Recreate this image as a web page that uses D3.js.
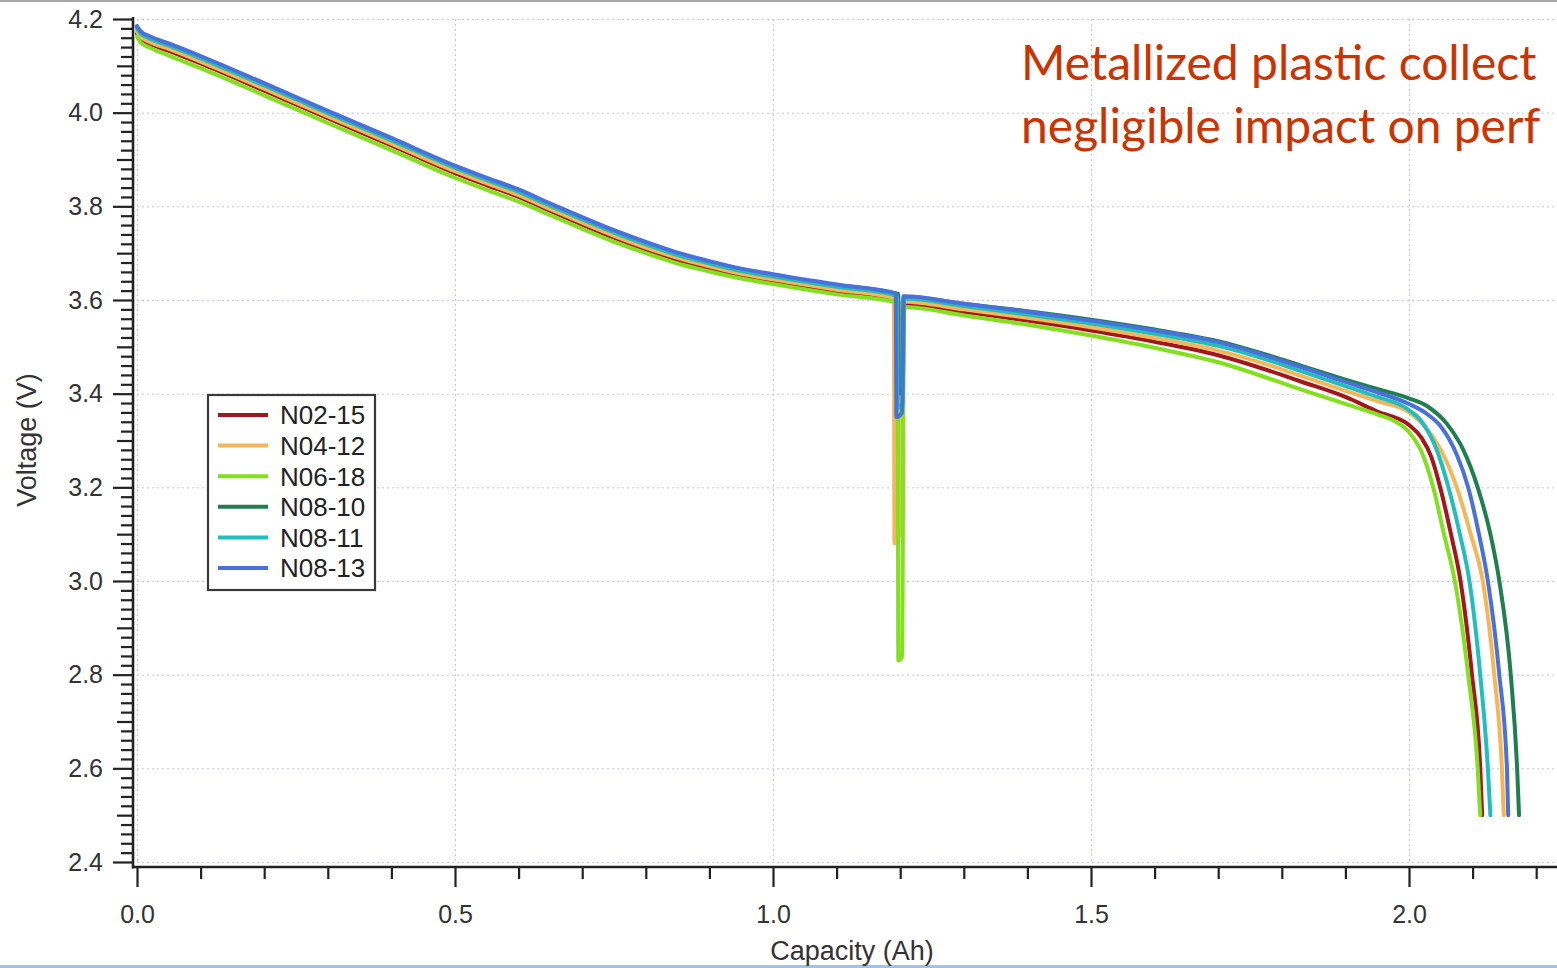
<!DOCTYPE html>
<html><head><meta charset="utf-8">
<script src="https://cdn.jsdelivr.net/npm/d3@7"></script>
<style>html,body{margin:0;padding:0;background:#fff;overflow:hidden}svg{display:block}</style>
</head><body>
<svg id="chart" width="1557" height="968"></svg>
<script>
// ---------- data (capacity Ah, voltage V) ----------
const seriesNames = ["N02-15", "N04-12", "N06-18", "N08-10", "N08-11", "N08-13"];

const N02_15 = [[0,4.169],[0.005,4.159],[0.02,4.147],[0.05,4.132],[0.1,4.105],[0.2,4.047],[0.3,3.988],[0.4,3.930],[0.5,3.871],[0.55,3.845],[0.6,3.820],[0.65,3.790],[0.7,3.761],[0.75,3.733],[0.8,3.708],[0.85,3.686],[0.9,3.668],[0.95,3.652],[1.0,3.640],[1.1,3.618],[1.194,3.600],
  [1.195,3.12],[1.200,3.13],[1.204,3.592],
  [1.3,3.575],[1.4,3.556],[1.5,3.535],[1.6,3.511],[1.7,3.482],[1.8,3.440],[1.83,3.426],[1.9,3.393],[1.95,3.362],[2.0,3.333],[2.02,3.305],[2.035,3.265],[2.05,3.195],[2.066,3.1],[2.081,3.0],[2.099,2.8],[2.112,2.6],[2.115,2.5]];

const N04_12 = [[0,4.173],[0.005,4.163],[0.02,4.151],[0.05,4.136],[0.1,4.109],[0.2,4.051],[0.3,3.992],[0.4,3.934],[0.5,3.875],[0.55,3.849],[0.6,3.824],[0.65,3.794],[0.7,3.765],[0.75,3.737],[0.8,3.712],[0.85,3.690],[0.9,3.672],[0.95,3.656],[1.0,3.644],[1.1,3.622],[1.19,3.604],
  [1.191,3.08],[1.199,3.10],[1.203,3.597],
  [1.3,3.580],[1.4,3.562],[1.5,3.542],[1.6,3.519],[1.7,3.492],[1.8,3.452],[1.83,3.438],[1.9,3.406],[1.95,3.384],[2.0,3.360],[2.025,3.330],[2.05,3.280],[2.075,3.2],[2.097,3.1],[2.116,3.0],[2.134,2.8],[2.146,2.6],[2.149,2.5]];

const N06_18 = [[0,4.162],[0.005,4.151],[0.02,4.139],[0.05,4.122],[0.1,4.095],[0.2,4.037],[0.3,3.978],[0.4,3.920],[0.5,3.861],[0.55,3.835],[0.6,3.810],[0.65,3.781],[0.7,3.752],[0.75,3.724],[0.8,3.700],[0.85,3.678],[0.9,3.661],[0.95,3.646],[1.0,3.634],[1.1,3.612],[1.196,3.594],
  [1.197,2.83],[1.203,2.84],[1.206,3.585],
  [1.3,3.567],[1.4,3.547],[1.5,3.524],[1.6,3.498],[1.7,3.467],[1.8,3.423],[1.83,3.409],[1.9,3.378],[1.95,3.356],[1.975,3.343],[2.0,3.318],[2.02,3.275],[2.038,3.2],[2.055,3.1],[2.072,3.0],[2.093,2.8],[2.108,2.6],[2.112,2.5]];

const N08_10 = [[0,4.183],[0.005,4.173],[0.02,4.161],[0.05,4.146],[0.1,4.119],[0.2,4.061],[0.3,4.002],[0.4,3.944],[0.5,3.885],[0.55,3.859],[0.6,3.834],[0.65,3.804],[0.7,3.775],[0.75,3.747],[0.8,3.722],[0.85,3.699],[0.9,3.681],[0.95,3.665],[1.0,3.653],[1.1,3.632],[1.197,3.613],
  [1.198,3.40],[1.204,3.41],[1.206,3.607],
  [1.3,3.592],[1.4,3.576],[1.5,3.558],[1.6,3.537],[1.7,3.512],[1.8,3.473],[1.83,3.460],[1.9,3.430],[1.95,3.410],[2.0,3.390],[2.03,3.372],[2.06,3.335],[2.085,3.281],[2.108,3.2],[2.128,3.1],[2.142,3.0],[2.160,2.8],[2.170,2.6],[2.173,2.5]];

const N08_11 = [[0,4.180],[0.005,4.170],[0.02,4.158],[0.05,4.143],[0.1,4.116],[0.2,4.058],[0.3,3.999],[0.4,3.941],[0.5,3.882],[0.55,3.856],[0.6,3.831],[0.65,3.801],[0.7,3.772],[0.75,3.744],[0.8,3.719],[0.85,3.696],[0.9,3.678],[0.95,3.662],[1.0,3.650],[1.1,3.628],[1.195,3.609],
  [1.196,3.37],[1.204,3.38],[1.206,3.603],
  [1.3,3.587],[1.4,3.569],[1.5,3.550],[1.6,3.528],[1.7,3.502],[1.8,3.462],[1.83,3.448],[1.9,3.416],[1.95,3.393],[2.0,3.365],[2.02,3.340],[2.045,3.275],[2.062,3.2],[2.08,3.1],[2.095,3.0],[2.112,2.8],[2.124,2.6],[2.128,2.5]];

const N08_13 = [[0,4.185],[0.005,4.175],[0.02,4.163],[0.05,4.148],[0.1,4.121],[0.2,4.063],[0.3,4.004],[0.4,3.946],[0.5,3.887],[0.55,3.861],[0.6,3.836],[0.65,3.806],[0.7,3.777],[0.75,3.749],[0.8,3.724],[0.85,3.701],[0.9,3.683],[0.95,3.667],[1.0,3.655],[1.1,3.633],[1.193,3.614],
  [1.194,3.35],[1.203,3.36],[1.205,3.608],
  [1.3,3.592],[1.4,3.575],[1.5,3.556],[1.6,3.535],[1.7,3.510],[1.8,3.470],[1.83,3.457],[1.9,3.425],[1.95,3.403],[2.0,3.378],[2.03,3.355],[2.05,3.330],[2.075,3.27],[2.093,3.2],[2.11,3.1],[2.124,3.0],[2.142,2.8],[2.154,2.6],[2.156,2.5]];

const seriesData = [N02_15, N04_12, N06_18, N08_10, N08_11, N08_13];
const seriesColors = ["#a3161c", "#f5b65a", "#82e01e", "#1f7f4e", "#22bdbd", "#4a70dc"];

const xMajorTicks = [0, 0.5, 1.0, 1.5, 2.0];
const xTickLabels = ["0.0", "0.5", "1.0", "1.5", "2.0"];
const yMajorTicks = [2.4, 2.6, 2.8, 3.0, 3.2, 3.4, 3.6, 3.8, 4.0, 4.2];
const yTickLabels = ["2.4", "2.6", "2.8", "3.0", "3.2", "3.4", "3.6", "3.8", "4.0", "4.2"];
const xTitle = "Capacity (Ah)";
const yTitle = "Voltage (V)";
// the slide's headline, as far as it is visible at the right edge
const titleLines = ["Metallized plastic collect", "negligible impact on perf"];

// ---------- drawing ----------
const W = 1557, H = 968;
const svg = d3.select("#chart");
const x = d3.scaleLinear().domain([0, 1]).range([137, 773]);
const y = d3.scaleLinear().domain([2.4, 4.2]).range([862, 19]);
const axisFont = "'Liberation Sans', Arial, Helvetica, sans-serif";
const textCol = "#333";

// frame lines of the slide
svg.append("rect").attr("x", 0).attr("y", 0).attr("width", W).attr("height", 2).attr("fill", "#a6a6a6");
svg.append("rect").attr("x", 0).attr("y", 965).attr("width", W).attr("height", 3).attr("fill", "#9dc3e6");

// grid
const grid = svg.append("g").attr("stroke", "#c6c6e2").attr("stroke-width", 1).attr("stroke-dasharray", "2,3");
grid.selectAll("line.h").data(yMajorTicks).join("line").attr("class", "h")
  .attr("x1", x(0)).attr("x2", W).attr("y1", d => y(d) + 0.5).attr("y2", d => y(d) + 0.5);
grid.selectAll("line.v").data(xMajorTicks).join("line").attr("class", "v")
  .attr("x1", d => x(d) + 0.5).attr("x2", d => x(d) + 0.5).attr("y1", y(4.2)).attr("y2", y(2.4));

// y axis
const yMinor = d3.range(2.4, 4.2001, 0.02).map(v => +v.toFixed(2));
const yMid = [2.5, 2.7, 2.9, 3.1, 3.3, 3.5, 3.7, 3.9, 4.1];
const isIn = (arr, v) => arr.some(m => Math.abs(m - v) < 1e-6);
const yAxisG = svg.append("g").attr("transform", "translate(133,0)");
yAxisG.append("g").call(d3.axisLeft(y).tickValues(yMinor.filter(v => !isIn(yMajorTicks, v) && !isIn(yMid, v))).tickSize(12).tickSizeOuter(0).tickFormat(""));
yAxisG.append("g").call(d3.axisLeft(y).tickValues(yMid).tickSize(16).tickSizeOuter(0).tickFormat(""));
yAxisG.append("g").call(d3.axisLeft(y).tickValues(yMajorTicks).tickSize(20).tickSizeOuter(0).tickPadding(10)
  .tickFormat((d, i) => yTickLabels[i]));
yAxisG.selectAll(".domain").remove();
yAxisG.selectAll("line").attr("stroke", "#222").attr("stroke-width", 2.2);
yAxisG.selectAll("text").attr("font-family", axisFont).attr("font-size", 25).attr("fill", textCol);

// x axis
const xMinor = d3.range(0, 2.2001, 0.1).map(v => +v.toFixed(1)).filter(v => !isIn(xMajorTicks, v));
const xAxisG = svg.append("g").attr("transform", "translate(0,867)");
xAxisG.append("g").call(d3.axisBottom(x).tickValues(xMinor).tickSize(12).tickSizeOuter(0).tickFormat(""));
xAxisG.append("g").call(d3.axisBottom(x).tickValues(xMajorTicks).tickSize(20).tickSizeOuter(0).tickPadding(18)
  .tickFormat((d, i) => xTickLabels[i]));
xAxisG.selectAll(".domain").remove();
xAxisG.selectAll("line").attr("stroke", "#222").attr("stroke-width", 2.2);
xAxisG.selectAll("text").attr("font-family", axisFont).attr("font-size", 25).attr("fill", textCol);

// spines
svg.append("line").attr("x1", 133).attr("x2", 133).attr("y1", 17).attr("y2", 868.5).attr("stroke", "#222").attr("stroke-width", 2.6);
svg.append("line").attr("x1", 132).attr("x2", W).attr("y1", 867).attr("y2", 867).attr("stroke", "#222").attr("stroke-width", 2.6);

// axis titles
svg.append("text").attr("x", 852).attr("y", 960).attr("text-anchor", "middle")
  .attr("font-family", axisFont).attr("font-size", 27).attr("fill", textCol).text(xTitle);
svg.append("text").attr("transform", "translate(36,440) rotate(-90)").attr("text-anchor", "middle")
  .attr("font-family", axisFont).attr("font-size", 27).attr("fill", textCol).text(yTitle);

// series
const line = d3.line().x(d => x(d[0])).y(d => y(d[1])).curve(d3.curveMonotoneX);
svg.append("g").selectAll("path").data(seriesData).join("path")
  .attr("d", line).attr("fill", "none")
  .attr("stroke", (d, i) => seriesColors[i]).attr("stroke-width", 4)
  .attr("stroke-linejoin", "round").attr("stroke-linecap", "round");

// legend
const lg = svg.append("g").attr("transform", "translate(208,395)");
lg.append("rect").attr("x", 0).attr("y", 0).attr("width", 167).attr("height", 195)
  .attr("fill", "#fff").attr("stroke", "#3a3a3a").attr("stroke-width", 2.2);
const rows = lg.selectAll("g.row").data(seriesNames).join("g").attr("class", "row")
  .attr("transform", (d, i) => `translate(0,${20 + i * 30.6})`);
rows.append("line").attr("x1", 10).attr("x2", 60).attr("y1", 0).attr("y2", 0)
  .attr("stroke", (d, i) => seriesColors[i]).attr("stroke-width", 4);
rows.append("text").attr("x", 72).attr("y", 0).attr("dy", "0.36em")
  .attr("font-family", axisFont).attr("font-size", 26).attr("fill", "#222").text(d => d);

// headline text
const tt = svg.append("text").attr("font-family", "Lato, 'Open Sans', sans-serif").attr("font-size", 48).attr("fill", "#cc3300");
tt.selectAll("tspan").data(titleLines).join("tspan").attr("x", 1021).attr("y", (d, i) => 80 + i * 63).text(d => d);
</script>
</body></html>
